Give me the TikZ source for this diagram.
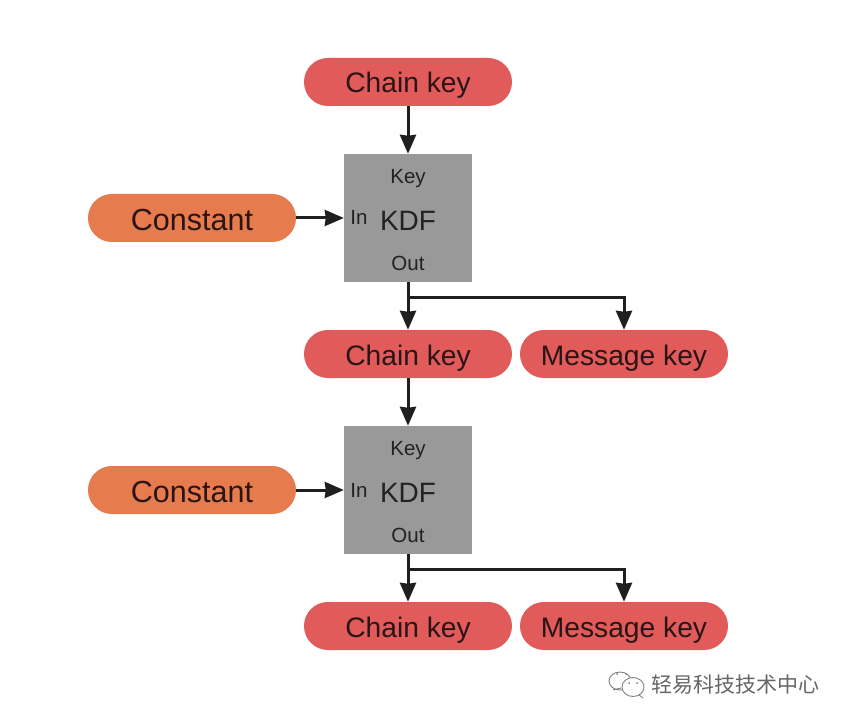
\documentclass[tikz,border=0pt]{standalone}
\usepackage{fontspec}
\setmainfont{Liberation Sans}
\newfontfamily\cjk{Noto Sans CJK SC}
\usetikzlibrary{arrows.meta}
\definecolor{redp}{HTML}{E25B5B}
\definecolor{orp}{HTML}{E67C4E}
\definecolor{kdfg}{HTML}{999999}
\definecolor{ink}{HTML}{2A1414}
\definecolor{inkg}{HTML}{222222}
\tikzset{
 x=1pt,y=-1pt,
 pill/.style={rounded corners=23.9pt,minimum width=208pt,minimum height=48pt,inner sep=0pt,text=ink,text depth=0pt},
 redpill/.style={pill,fill=redp,text height=22pt,font=\fontsize{28.2}{28}\selectfont},
 orpill/.style={pill,fill=orp,text height=24pt,font=\fontsize{30.5}{30}\selectfont},
 kdfbox/.style={fill=kdfg,minimum width=128pt,minimum height=128pt,inner sep=0pt},
 small/.style={font=\fontsize{20.5}{20}\selectfont,text=inkg,inner sep=0pt,anchor=base},
 big/.style={font=\fontsize{28}{28}\selectfont,text=inkg,inner sep=0pt,anchor=base},
 conn/.style={draw=black!88,line width=3pt,-{Stealth[length=19pt,width=16pt,inset=1pt]}},
 iconline/.style={draw=black!50,line width=0.9pt},
}
\begin{document}
\begin{tikzpicture}
\useasboundingbox[fill=white] (0,0) rectangle (846,722);
\node[redpill] (ck0) at (408,82) {Chain key};
\node[kdfbox] (k1) at (408,218) {};
\node[orpill] (c1) at (192,218) {Constant};
\node[small] (k1key) at (408,183.5) {Key};
\node[small] (k1in) at (359,225) {In};
\node[big] (k1kdf) at (408,230) {KDF};
\node[small] (k1out) at (408,270) {Out};
\node[redpill] (ck1) at (408,354) {Chain key};
\node[redpill] (mk1) at (624,354) {Message key};
\node[kdfbox] (k2) at (408,490) {};
\node[orpill] (c2) at (192,490) {Constant};
\node[small] (k2key) at (408,455.5) {Key};
\node[small] (k2in) at (359,497) {In};
\node[big] (k2kdf) at (408,502) {KDF};
\node[small] (k2out) at (408,542) {Out};
\node[redpill] (ck2) at (408,626) {Chain key};
\node[redpill] (mk2) at (624,626) {Message key};
\node[font=\cjk\fontsize{21}{21}\selectfont,text=black!60,inner sep=0pt] (wm) at (735,685) {轻易科技技术中心};
\draw[conn] (ck0) -- (k1);
\draw[conn] (c1) -- (k1);
\draw[conn] (k1) -- (ck1);
\draw[conn] (ck1) -- (k2);
\draw[conn] (c2) -- (k2);
\draw[conn] (k2) -- (ck2);
\coordinate (b1) at (408,297);
\coordinate (b2) at (408,569);
\draw[conn] (b1) -| (mk1);
\draw[conn] (b2) -| (mk2);
\draw[iconline,fill=white] (620,681) ellipse[x radius=11,y radius=9];
\draw[iconline] (613,690) -- (621,688);
\draw[iconline,fill=white] (633,687) ellipse[x radius=11,y radius=9.5];
\draw[iconline] (639,695) -- (643,698);
\fill[black!50] (629,683) circle[radius=1] (637,683) circle[radius=1] (617,674) circle[radius=1] (626,674) circle[radius=1];
\end{tikzpicture}
\end{document}
